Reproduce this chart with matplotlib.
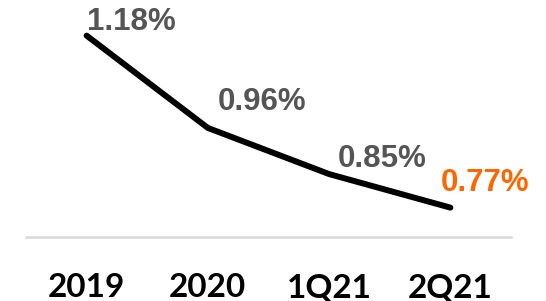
import numpy as np
import matplotlib
matplotlib.use("Agg")
import matplotlib.pyplot as plt

periods = ["2019", "2020", "1Q21", "2Q21"]
ratio = [1.18, 0.96, 0.85, 0.77]
labels = ["1.18%", "0.96%", "0.85%", "0.77%"]
label_colors = ["#555555", "#555555", "#555555", "#FF6600"]
# label offsets from the point, in pixels
label_dx = [45, 54, 53, 35]
label_dy = [14, 26, 15, 25]

fig = plt.figure(figsize=(5.46, 3.01), dpi=100)
ax = fig.add_axes([26/546, 64/301, 485/546, 237/301])

x = np.arange(len(periods))
ax.plot(x, ratio, color="black", lw=4.3, solid_capstyle="round", solid_joinstyle="round")

for i in range(len(x)):
    ax.annotate(labels[i], xy=(x[i], ratio[i]), xytext=(label_dx[i], label_dy[i]),
                textcoords="offset pixels", ha="center", va="center",
                fontsize=22.5, fontweight="bold", family="Liberation Sans",
                color=label_colors[i])

ax.set_xlim(-0.5, 3.5)
ax.set_ylim(0.70, 0.70 + 237/419.5)

for s in ["top", "right", "left"]:
    ax.spines[s].set_visible(False)
ax.spines["bottom"].set_color("#d9d9d9")
ax.spines["bottom"].set_linewidth(1.8)
ax.set_yticks([])
ax.set_xticks(x)
ax.set_xticklabels(periods, fontsize=24, fontweight="bold", family="Lato")
ax.tick_params(axis="x", length=0, pad=26)

fig.savefig("out.png", dpi=100)
